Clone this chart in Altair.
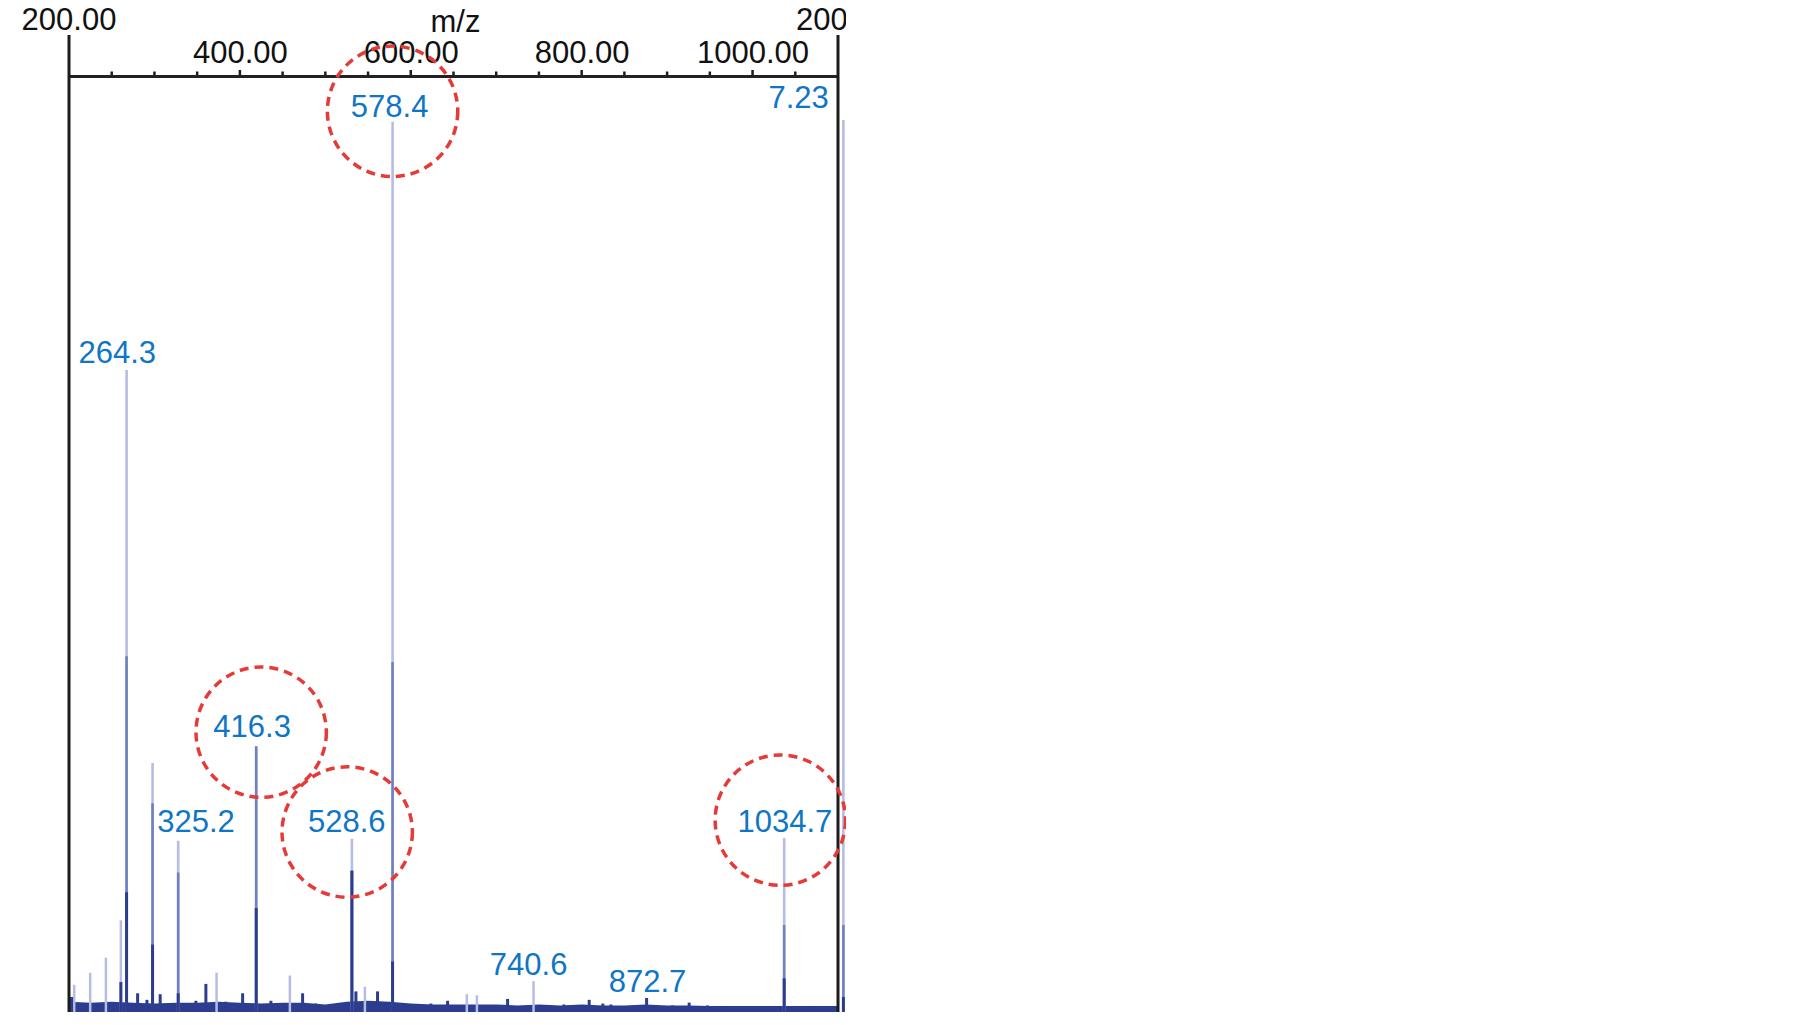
import altair as alt
import pandas as pd

FONT = "Liberation Sans, Arial, sans-serif"

# ---------------- data ----------------
x_domain = [200, 1100]
axis_label_values = [400, 600, 800, 1000]
major_ticks = [400, 600, 800, 1000]
minor_ticks = [250, 300, 350, 450, 500, 550, 650, 700, 750, 850, 900, 950, 1050]
frame_lines = [200, 1100]

# main peaks: position, top intensity, level where the line gets denser / darkest
peak_mz = [267.4, 297.8, 327.8, 419.1, 531.1, 578.7, 1037.0, 1106.3]
peak_top = [68.6, 26.6, 18.3, 28.4, 18.5, 95.1, 18.6, 95.3]
peak_mid = [38.0, 22.3, 14.9, 28.4, 15.1, 37.4, 9.3, 9.3]
peak_dark = [12.8, 7.2, 2.0, 11.1, 15.1, 5.4, 3.6, 1.6]

# small pale peaks
pale_mz = [206.1, 224.8, 243.2, 260.7, 372.7, 458.5, 546.3, 665.6, 677.4, 743.7]
pale_int = [2.9, 4.2, 5.8, 9.8, 4.2, 3.9, 2.7, 1.9, 1.8, 3.3]

# small dark bumps
dark_mz = [203.0, 260.7, 280.3, 291.2, 306.7, 348.5, 360.2, 383.6, 403.2, 436.3, 473.4,
           488.9, 535.8, 561.1, 623.5, 643.1, 713.3, 779.2, 808.8, 824.8, 834.2,
           876.0, 906.4, 925.8, 947.3, 970.7, 1067.4]
dark_int = [1.6, 3.2, 2.0, 1.3, 1.9, 1.2, 3.0, 1.1, 2.0, 1.2, 2.0,
            0.9, 2.2, 2.2, 0.9, 1.2, 1.4, 0.8, 1.3, 0.9, 0.8,
            1.5, 0.7, 1.0, 0.7, 0.6, 0.6]

# baseline noise band
base_mz = [200, 225, 250, 275, 300, 325, 350, 375, 400, 425, 450, 475, 500, 525,
           550, 575, 600, 625, 650, 675, 700, 725, 750, 775, 800, 825, 850, 875,
           900, 925, 950, 975, 1000, 1025, 1050, 1075, 1100]
base_int = [1.1, 1.0, 1.1, 1.0, 0.9, 1.0, 1.0, 1.1, 1.0, 0.9, 1.0, 1.0, 0.8, 1.1,
            1.2, 1.1, 0.9, 0.8, 0.8, 0.8, 0.8, 0.7, 0.8, 0.7, 0.8, 0.7, 0.7, 0.8,
            0.7, 0.7, 0.65, 0.65, 0.65, 0.65, 0.65, 0.65, 0.65]

# peak annotations
label_text = ["264.3", "325.2", "416.3", "528.6", "578.4", "740.6", "872.7", "1034.7"]
label_mz = [256.4, 348.7, 414.3, 525.0, 575.2, 737.9, 877.1, 1037.8]
label_int = [69.3, 19.26, 29.35, 19.26, 95.65, 3.95, 2.10, 19.26]

# dashed highlight circles
circle_mz = [578.7, 424.9, 525.6, 1032.5]
circle_int = [96.23, 29.9, 19.23, 20.5]

# fragments at the edges
edge_text = ["7.23"]
edge_mz = [1089.3]
edge_int = [96.58]

top_left_text = ["200.00"]
top_left_mz = [200]
top_right_text = ["200"]
top_right_mz = [1050.9]

# ---------------- chart ----------------
PALE = "#b6bde2"
MID = "#7080c2"
DARK = "#2c3d8f"
BLUE = "#0f75c4"
RED = "#e53b38"
BLACK = "#1c1c1c"

xscale = alt.Scale(domain=x_domain, nice=False, zero=False)
yscale = alt.Scale(domain=[0, 100], nice=False, zero=True)
xaxis = alt.Axis(
    orient="top", values=axis_label_values, format=".2f", ticks=False,
    labelFontSize=31, labelFont=FONT, labelColor="#111111",
    labelBaseline="alphabetic", labelPadding=14, labelFlush=False,
    labelOverlap=False, domainColor="#222222", domainWidth=3, grid=False,
    title="m/z", titleFont=FONT, titleFontSize=31, titleFontWeight="normal",
    titleColor="#111111", titleX=386, titleY=-45, titleBaseline="alphabetic",
    titleAlign="center",
)


def X(field):
    return alt.X(field, type="quantitative", scale=xscale, axis=xaxis)


def Y(field):
    return alt.Y(field, type="quantitative", scale=yscale, axis=None)


peaks = pd.DataFrame({"mz": peak_mz, "top": peak_top, "mid": peak_mid,
                      "dark": peak_dark, "zero": 0})
pale = pd.DataFrame({"mz": pale_mz, "v": pale_int, "zero": 0})
dark = pd.DataFrame({"mz": dark_mz, "v": dark_int, "zero": 0})
base = pd.DataFrame({"mz": base_mz, "v": base_int})
labels = pd.DataFrame({"mz": label_mz, "v": label_int, "t": label_text})
circles = pd.DataFrame({"mz": circle_mz, "v": circle_int})
edge = pd.DataFrame({"mz": edge_mz, "v": edge_int, "t": edge_text})
tl = pd.DataFrame({"mz": top_left_mz, "t": top_left_text})
tr = pd.DataFrame({"mz": top_right_mz, "t": top_right_text})
majors = pd.DataFrame({"mz": major_ticks})
minors = pd.DataFrame({"mz": minor_ticks})
frames = pd.DataFrame({"mz": frame_lines})

layers = [
    alt.Chart(base).mark_area(color=DARK, clip=False).encode(
        x=X("mz"), y=Y("v")),
    alt.Chart(pale).mark_rule(color=PALE, strokeWidth=2.5).encode(
        x=X("mz"), y=Y("v"), y2="zero"),
    alt.Chart(dark).mark_rule(color=DARK, strokeWidth=3).encode(
        x=X("mz"), y=Y("v"), y2="zero"),
    alt.Chart(peaks).mark_rule(color=PALE, strokeWidth=2.6).encode(
        x=X("mz"), y=Y("top"), y2="zero"),
    alt.Chart(peaks).mark_rule(color=MID, strokeWidth=2.6).encode(
        x=X("mz"), y=Y("mid"), y2="zero"),
    alt.Chart(peaks).mark_rule(color=DARK, strokeWidth=3).encode(
        x=X("mz"), y=Y("dark"), y2="zero"),
    alt.Chart(frames).mark_rule(color=BLACK, strokeWidth=3).encode(
        x=X("mz"), y=alt.value(-41), y2=alt.value(936)),
    alt.Chart(majors).mark_rule(color=BLACK, strokeWidth=2.5).encode(
        x=X("mz"), y=alt.value(-1), y2=alt.value(-6)),
    alt.Chart(minors).mark_rule(color=BLACK, strokeWidth=2.5).encode(
        x=X("mz"), y=alt.value(-1), y2=alt.value(-4.5)),
    alt.Chart(circles).mark_point(shape="circle", size=17000, filled=False,
                                  stroke=RED, strokeWidth=3.5,
                                  strokeDash=[9, 6], opacity=1).encode(
        x=X("mz"), y=Y("v")),
    alt.Chart(labels).mark_text(font=FONT, fontSize=31, color=BLUE,
                                align="center", baseline="alphabetic").encode(
        x=X("mz"), y=Y("v"), text="t"),
    alt.Chart(edge).mark_text(font=FONT, fontSize=31, color=BLUE,
                              align="right", baseline="alphabetic").encode(
        x=X("mz"), y=Y("v"), text="t"),
    alt.Chart(tl).mark_text(font=FONT, fontSize=31, color="#111111",
                            align="center", baseline="alphabetic").encode(
        x=X("mz"), y=alt.value(-46), text="t"),
    alt.Chart(tr).mark_text(font=FONT, fontSize=31, color="#111111",
                            align="left", baseline="alphabetic").encode(
        x=X("mz"), y=alt.value(-46), text="t"),
]

chart = alt.layer(*layers).properties(
    width=769, height=936,
    autosize=alt.AutoSizeParams(type="none"),
    padding={"left": 61, "top": 68, "right": 8, "bottom": 5},
    background="white",
).configure_view(stroke="transparent")

chart.save("out.html", embed_options={"renderer": "svg", "actions": False})
